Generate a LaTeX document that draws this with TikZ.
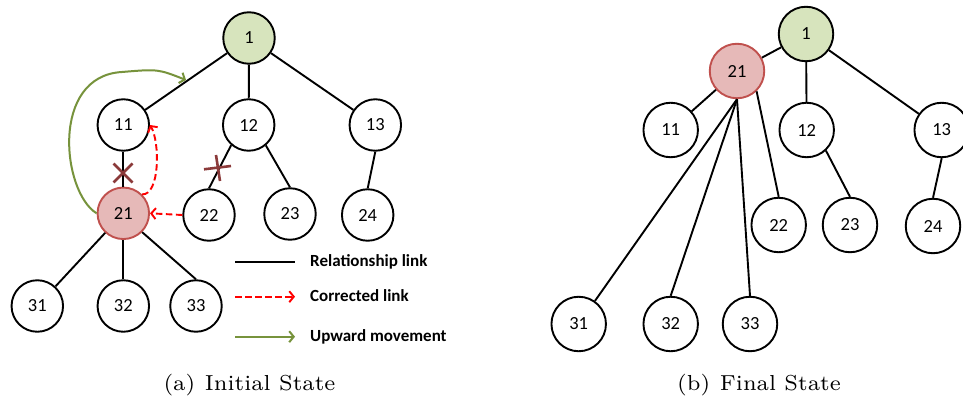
\documentclass[tikz,border=0pt]{standalone}
\usepackage{fontspec}
\newfontfamily\nodefont{Carlito}
\usetikzlibrary{arrows.meta}

\definecolor{rootfill}{HTML}{D7E4BD}
\definecolor{movedfill}{HTML}{E6B9B8}
\definecolor{moveddraw}{HTML}{C0504D}
\definecolor{upgreen}{HTML}{77933C}
\definecolor{cutmark}{HTML}{8B3A3A}

\tikzset{
  tnode/.style={circle, draw=black, line width=1.9pt, fill=white, inner sep=0pt,
    minimum size=51.5pt, font=\nodefont\fontsize{18.5}{18.5}\selectfont},
  tnodeR/.style={tnode, minimum size=54.5pt},
  rootnode/.style={fill=rootfill},
  movednode/.style={fill=movedfill, draw=moveddraw},
  rel/.style={line width=1.9pt},
  fixlink/.style={red, line width=1.9pt, dash pattern=on 6.5pt off 3.5pt,
    -{Straight Barb[length=4.5pt,width=11pt]}},
  uplink/.style={upgreen, line width=2pt, -{Straight Barb[length=4.5pt,width=11pt]}},
  cutstroke/.style={cutmark, line width=2.6pt},
  legtext/.style={anchor=base west, inner sep=0pt, font=\nodefont\bfseries\fontsize{17}{17}\selectfont},
  captext/.style={anchor=base, inner sep=0pt}
}

\begin{document}
\begin{tikzpicture}[x=1pt, y=-1pt]
  \clip (0,0) rectangle (963,398);
  \fill[white] (0,0) rectangle (963,398);

  % ---------- (a) initial state ----------
  \node[tnode, rootnode] (a1) at (249,38) {1};
  \node[tnode] (a11) at (123.3,125) {11};
  \node[tnode] (a12) at (248.7,125) {12};
  \node[tnode] (a13) at (375.3,125) {13};
  \node[tnode, movednode] (a21) at (123.3,213.3) {21};
  \node[tnode] (a22) at (209,215) {22};
  \node[tnode] (a23) at (290,214) {23};
  \node[tnode] (a24) at (367.7,215) {24};
  \node[tnode] (a31) at (37.3,306) {31};
  \node[tnode] (a32) at (123.3,306) {32};
  \node[tnode] (a33) at (196,306) {33};

  \draw[rel] (a1) -- (a11);
  \draw[rel] (a1) -- (a12);
  \draw[rel] (a1) -- (a13);
  \draw[rel] (a11) -- (a21);
  \draw[rel] (a12.-131) -- (a22.north);
  \draw[rel] (a12.-50) -- (a23.north);
  \draw[rel] (a13.south) -- (a24.north);
  \draw[rel] (a21) -- (a31);
  \draw[rel] (a21) -- (a32);
  \draw[rel] (a21.-45) -- (a33.north);

  % removed links
  \draw[cutstroke, shift={(123,173)}] (-9.5,-9.5) -- (9.5,9.5) (-9.5,9.5) -- (9.5,-9.5);
  \draw[cutstroke] (204,169.3) -- (231,166) (216,155) -- (220,181);

  % corrected links
  \draw[fixlink] (a21.45) .. controls (160,195) and (160,142) .. (a11.east);
  \draw[fixlink] (a22.west) -- (a21.east);

  % upward movement of node 21
  \coordinate (upTop) at (122,72);
  \coordinate (upEnd) at (186,80);
  \draw[uplink] (a21.west) .. controls (62,192) and (50,76) .. (upTop)
    .. controls (158,69) .. (upEnd);

  % legend
  \coordinate (lgA1) at (235,261.7); \coordinate (lgA2) at (295,261.7);
  \coordinate (lgB1) at (235,296.7); \coordinate (lgB2) at (295,296.7);
  \coordinate (lgC1) at (235,336.7); \coordinate (lgC2) at (295,336.7);
  \draw[line width=1.9pt] (lgA1) -- (lgA2);
  \draw[fixlink] (lgB1) -- (lgB2);
  \draw[uplink] (lgC1) -- (lgC2);
  \node[legtext] (lgtA) at (310,266.5) {Relationship link};
  \node[legtext] (lgtB) at (310,301.5) {Corrected link};
  \node[legtext] (lgtC) at (310,341.5) {Upward movement};

  \node[captext] (capA) at (249.5,390)
    {\scalebox{3.1}{\fontsize{7}{8}\selectfont (a)\hspace{0.45em}Initial State}};

  % ---------- (b) final state ----------
  \node[tnodeR, rootnode] (b1) at (806,34) {1};
  \node[tnodeR, movednode] (b21) at (737,71) {21};
  \node[tnodeR] (b11) at (670.7,130) {11};
  \node[tnodeR] (b12) at (806.7,130) {12};
  \node[tnodeR] (b13) at (941.7,130) {13};
  \node[tnodeR] (b22) at (778.7,225) {22};
  \node[tnodeR] (b23) at (850,225) {23};
  \node[tnodeR] (b24) at (933,226) {24};
  \node[tnodeR] (b31) at (578.7,324) {31};
  \node[tnodeR] (b32) at (670.7,324) {32};
  \node[tnodeR] (b33) at (750,324) {33};

  \draw[rel] (b1) -- (b21);
  \draw[rel] (b1) -- (b12);
  \draw[rel] (b1) -- (b13);
  \draw[rel] (b21) -- (b11);
  \draw[rel] (b21.-46) -- (b22.north);
  \draw[rel] (b21.south) -- (b31);
  \draw[rel] (b21.south) -- (b32.north);
  \draw[rel] (b21.south) -- (b33.north);
  \draw[rel] (b12.-47) -- (b23.north);
  \draw[rel] (b13.south) -- (b24.north);

  \node[captext] (capB) at (759,390)
    {\scalebox{3.1}{\fontsize{7}{8}\selectfont (b)\hspace{0.45em}Final State}};
\end{tikzpicture}
\end{document}
